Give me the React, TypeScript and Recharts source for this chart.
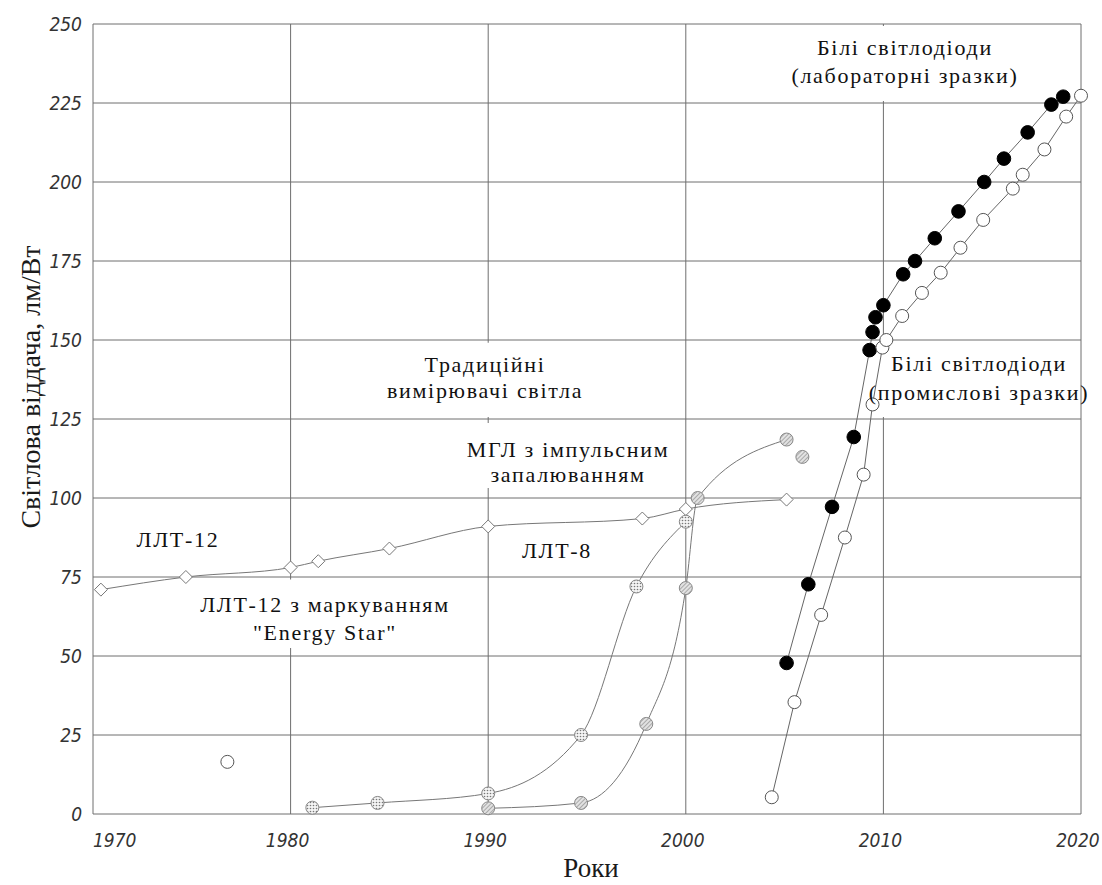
import React from 'react';
import { ComposedChart, Line, XAxis, YAxis, CartesianGrid, ReferenceArea, ReferenceDot, Label } from 'recharts';

// axis ticks
const xTicks = [1970, 1980, 1990, 2000, 2010, 2020];
const yTicks = [0, 25, 50, 75, 100, 125, 150, 175, 200, 225, 250];

// ЛЛТ-12 / ЛЛТ-8 (open diamonds)
const lltYears = [1970.4, 1974.7, 1980.0, 1981.4, 1985.0, 1990.0, 1997.8, 2000.0, 2005.1];
const lltValues = [71, 75, 78, 80, 84, 91, 93.5, 96.5, 99.5];

// ЛЛТ-12 "Energy Star" (dotted circles)
const starYears = [1981.1, 1984.4, 1990.0, 1994.7, 1997.5, 2000.0];
const starValues = [2, 3.5, 6.5, 25, 72, 92.5];

// МГЛ з імпульсним запалюванням (hatched circles)
const mglYears = [1990.0, 1994.7, 1998.0, 2000.0, 2000.6, 2005.1];
const mglValues = [1.8, 3.5, 28.5, 71.5, 100, 118.5];
const mglExtraYears = [2005.9];
const mglExtraValues = [113];

// Білі світлодіоди, лабораторні (filled circles)
const labYears = [2005.1, 2006.2, 2007.4, 2008.5, 2009.3, 2009.45, 2009.6, 2010.0, 2011.0, 2011.6, 2012.6, 2013.8, 2015.1, 2016.1, 2017.3, 2018.5, 2019.1];
const labValues = [47.8, 72.7, 97.2, 119.3, 146.8, 152.5, 157.2, 161, 170.8, 175, 182.2, 190.7, 200, 207.4, 215.7, 224.5, 227];

// Білі світлодіоди, промислові (open circles)
const indYears = [2004.35, 2005.5, 2006.85, 2008.05, 2009.0, 2009.45, 2009.95, 2010.15, 2010.95, 2011.95, 2012.9, 2013.9, 2015.05, 2016.55, 2017.05, 2018.15, 2019.25, 2020.0];
const indValues = [5.3, 35.4, 63, 87.5, 107.4, 129.6, 147.6, 150, 157.6, 164.9, 171.3, 179.2, 188, 197.9, 202.3, 210.3, 220.7, 227.3];

// одиночна точка
const oldYears = [1976.8];
const oldValues = [16.5];

const toPoints = (years: number[], values: number[]) => years.map((year, i) => ({ year, v: values[i] }));

const tickFont = "'DejaVu Sans Condensed', 'DejaVu Sans', sans-serif";
const serif = "'Liberation Serif', 'DejaVu Serif', serif";

const annotations = [
  { x: 2011.09, y: 240.2, gap: 28, lines: ['Білі світлодіоди', '(лабораторні зразки)'] },
  { x: 2014.84, y: 140.2, gap: 29, lines: ['Білі світлодіоди', '(промислові зразки)'] },
  { x: 1989.84, y: 139.9, gap: 26, lines: ['Традиційні', 'вимірювачі світла'] },
  { x: 1994.04, y: 113.0, gap: 25, lines: ['МГЛ з імпульсним', 'запалюванням'] },
  { x: 1993.48, y: 81.0, gap: 0, lines: ['ЛЛТ-8'] },
  { x: 1974.3, y: 84.5, gap: 0, lines: ['ЛЛТ-12'] },
  { x: 1981.74, y: 63.9, gap: 28, lines: ['ЛЛТ-12 з маркуванням', '"Energy Star"'] },
];

// white boxes behind the labels (grid is hidden there)
const labelBoxes = [
  { x1: 2004.77, x2: 2017.67, y1: 225.6, y2: 249.4 },
  { x1: 2009.88, x2: 2019.9, y1: 125.6, y2: 149.1 },
  { x1: 1984.27, x2: 1995.66, y1: 125.6, y2: 149.1 },
  { x1: 1988.32, x2: 1999.7, y1: 103.2, y2: 123.7 },
  { x1: 1975.16, x2: 1988.07, y1: 52.5, y2: 74.2 },
];

const makeDot = (kind: string) => (p: any) => {
  const { cx, cy, index } = p;
  const key = `${kind}-${index}`;
  if (cx == null || cy == null) return <g key={key} />;
  if (kind === 'diamond') {
    const s = 6.5;
    return <path key={key} d={`M${cx},${cy - s}L${cx + s},${cy}L${cx},${cy + s}L${cx - s},${cy}Z`} fill="#fff" stroke="#777" strokeWidth={1} />;
  }
  if (kind === 'filled') return <circle key={key} cx={cx} cy={cy} r={6.8} fill="#000" stroke="#000" />;
  if (kind === 'hatch') return <circle key={key} cx={cx} cy={cy} r={6.5} fill="url(#hatch)" stroke="#888" strokeWidth={1} />;
  if (kind === 'dots') return <circle key={key} cx={cx} cy={cy} r={6.5} fill="url(#dots)" stroke="#888" strokeWidth={1} />;
  return <circle key={key} cx={cx} cy={cy} r={6.5} fill="#fff" stroke="#555" strokeWidth={1} />;
};

const TextBlock = (props: any) => {
  const { cx, cy, lines, gap } = props;
  if (cx == null || cy == null) return null;
  return (
    <text textAnchor="middle" style={{ fontFamily: serif, fontSize: 22, letterSpacing: 1.7 }} fill="#111">
      {lines.map((t: string, i: number) => (
        <tspan key={i} x={cx} y={cy + i * gap}>{t}</tspan>
      ))}
    </text>
  );
};

const XTick = (props: any) => {
  const { x, y, payload } = props;
  const first = payload.value === xTicks[0];
  return (
    <text x={first ? x : x - 3} y={y + 33} textAnchor={first ? 'start' : 'middle'} style={{ fontFamily: tickFont, fontStyle: 'italic', fontStretch: 'condensed', fontSize: 19 }} fill="#333">
      {payload.value}
    </text>
  );
};

const YTick = (props: any) => {
  const { x, y, payload } = props;
  return (
    <text x={x - 11} y={y} dy="0.36em" textAnchor="end" style={{ fontFamily: tickFont, fontStyle: 'italic', fontStretch: 'condensed', fontSize: 19 }} fill="#333">
      {payload.value}
    </text>
  );
};

const YTitle = (props: any) => {
  const { viewBox } = props;
  const x = viewBox.x + 30;
  const y = viewBox.y + viewBox.height / 2 - 32;
  return (
    <text x={x} y={y} transform={`rotate(-90, ${x}, ${y})`} textAnchor="middle" dominantBaseline="central" style={{ fontFamily: serif, fontSize: 28 }} fill="#1a1a1a">
      Світлова віддача, лм/Вт
    </text>
  );
};

const XTitle = (props: any) => {
  const { viewBox } = props;
  return (
    <text x={viewBox.x + viewBox.width / 2 + 4} y={viewBox.y + 63} textAnchor="middle" style={{ fontFamily: serif, fontSize: 27 }} fill="#1a1a1a">
      Роки
    </text>
  );
};

export default function App() {
  return (
    <div style={{ position: 'absolute', left: 0, top: 0, background: '#fff' }}>
      <ComposedChart width={1102} height={885} margin={{ top: 24, right: 21, bottom: 0, left: 0 }}>
        <defs>
          <pattern id="hatch" patternUnits="userSpaceOnUse" width="3" height="3" patternTransform="rotate(45)">
            <rect width="3" height="3" fill="#e2e2e2" />
            <line x1="0" y1="0" x2="0" y2="3" stroke="#8a8a8a" strokeWidth="1.3" />
          </pattern>
          <pattern id="dots" patternUnits="userSpaceOnUse" width="3" height="3">
            <rect width="3" height="3" fill="#f4f4f4" />
            <circle cx="1.5" cy="1.5" r="0.8" fill="#777" />
          </pattern>
        </defs>
        <CartesianGrid stroke="#6e6e6e" strokeWidth={1} />
        <XAxis
          dataKey="year"
          type="number"
          domain={[1970, 2020]}
          ticks={xTicks}
          axisLine={false}
          tickLine={false}
          tickSize={0}
          tickMargin={0}
          height={71}
          tick={<XTick />}
        >
          <Label content={<XTitle />} />
        </XAxis>
        <YAxis
          type="number"
          domain={[0, 250]}
          ticks={yTicks}
          axisLine={false}
          tickLine={false}
          tickSize={0}
          tickMargin={0}
          width={93}
          tick={<YTick />}
        >
          <Label content={<YTitle />} />
        </YAxis>

        {labelBoxes.map((b, i) => (
          <ReferenceArea key={`box-${i}`} x1={b.x1} x2={b.x2} y1={b.y1} y2={b.y2} fill="#fff" fillOpacity={1} stroke="none" />
        ))}

        <Line data={toPoints(lltYears, lltValues)} dataKey="v" type="monotone" stroke="#777" strokeWidth={1} dot={makeDot('diamond')} activeDot={false} isAnimationActive={false} />
        <Line data={toPoints(starYears, starValues)} dataKey="v" type="monotone" stroke="#777" strokeWidth={1} dot={makeDot('dots')} activeDot={false} isAnimationActive={false} />
        <Line data={toPoints(mglYears, mglValues)} dataKey="v" type="monotone" stroke="#777" strokeWidth={1} dot={makeDot('hatch')} activeDot={false} isAnimationActive={false} />
        <Line data={toPoints(mglExtraYears, mglExtraValues)} dataKey="v" stroke="none" dot={makeDot('hatch')} activeDot={false} isAnimationActive={false} />
        <Line data={toPoints(labYears, labValues)} dataKey="v" type="linear" stroke="#666" strokeWidth={1} dot={makeDot('filled')} activeDot={false} isAnimationActive={false} />
        <Line data={toPoints(indYears, indValues)} dataKey="v" type="linear" stroke="#666" strokeWidth={1} dot={makeDot('open')} activeDot={false} isAnimationActive={false} />
        <Line data={toPoints(oldYears, oldValues)} dataKey="v" stroke="none" dot={makeDot('open')} activeDot={false} isAnimationActive={false} />

        {annotations.map((a, i) => (
          <ReferenceDot
            key={`ann-${i}`}
            x={a.x}
            y={a.y}
            r={0}
            shape={(p: any) => <TextBlock cx={p.cx} cy={p.cy} lines={a.lines} gap={a.gap} />}
          />
        ))}
      </ComposedChart>
    </div>
  );
}
